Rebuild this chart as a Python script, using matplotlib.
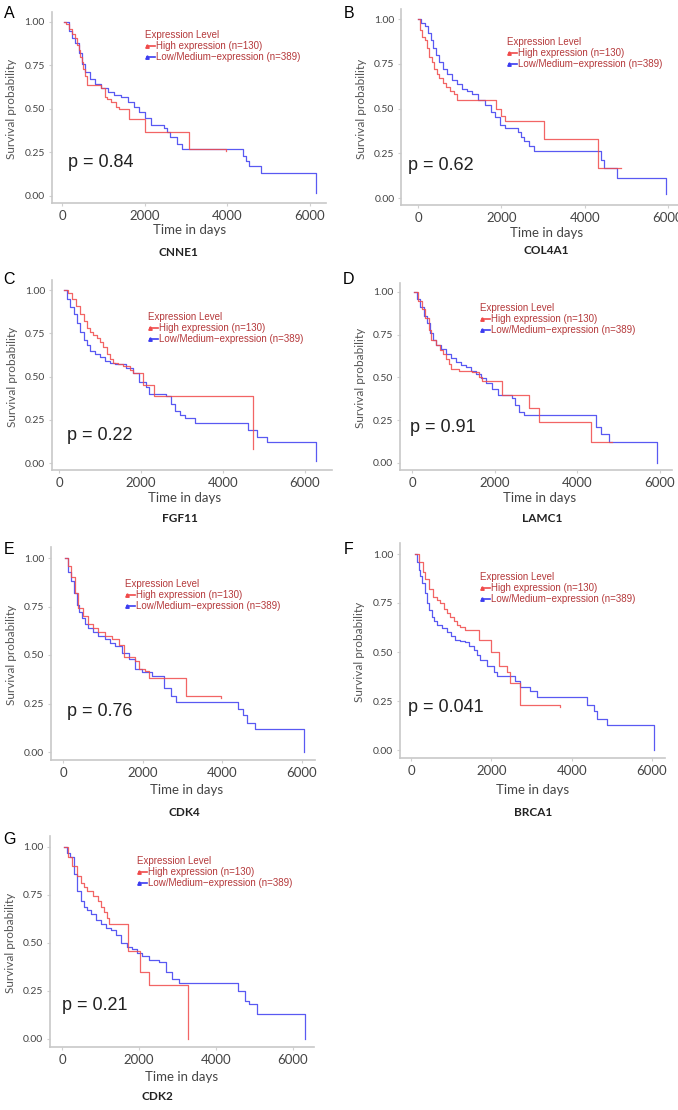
import matplotlib
matplotlib.use("Agg")
import matplotlib.pyplot as plt
from matplotlib.lines import Line2D

W, H = 678, 1110

# ---- survival curves (days, survival probability) ----
cnne1_high_t = [40, 100, 180, 250, 320, 360, 400, 440, 480, 520, 560, 600, 950, 1030, 1100, 1190, 1300, 1390,
                1630, 2000, 3080, 3970]
cnne1_high_s = [1.0, 0.99, 0.96, 0.93, 0.91, 0.87, 0.84, 0.80, 0.77, 0.73, 0.69, 0.64, 0.62, 0.57, 0.555, 0.54,
                0.51, 0.50, 0.44, 0.37, 0.27, 0.26]
cnne1_low_t = [40, 160, 240, 320, 400, 480, 560, 680, 800, 955, 1110, 1270, 1430, 1590, 1750, 1870, 2000, 2150,
               2460, 2540, 2620, 2780, 2900, 4370, 4450, 4530, 4810, 6150]
cnne1_low_s = [1.0, 0.95, 0.91, 0.88, 0.82, 0.76, 0.71, 0.675, 0.645, 0.62, 0.60, 0.58, 0.57, 0.54, 0.51, 0.48,
               0.45, 0.41, 0.39, 0.37, 0.34, 0.30, 0.27, 0.23, 0.20, 0.17, 0.13, 0.02]

col4a1_high_t = [0, 40, 100, 160, 220, 275, 330, 390, 450, 510, 590, 670, 760, 860, 940, 1880, 2000, 2080, 3020,
                 4310, 4860]
col4a1_high_s = [1.0, 0.94, 0.90, 0.88, 0.84, 0.79, 0.76, 0.72, 0.69, 0.67, 0.645, 0.62, 0.60, 0.58, 0.545, 0.50,
                 0.46, 0.43, 0.33, 0.17, 0.17]
col4a1_low_t = [0, 80, 160, 240, 310, 370, 430, 510, 590, 700, 820, 940, 1060, 1180, 1290, 1450, 1610, 1760, 1840,
                1960, 2080, 2390, 2470, 2550, 2670, 2780, 4390, 4470, 4780, 5960]
col4a1_low_s = [1.0, 0.98, 0.96, 0.92, 0.88, 0.84, 0.80, 0.76, 0.72, 0.69, 0.66, 0.635, 0.61, 0.595, 0.58, 0.55,
                0.52, 0.48, 0.45, 0.41, 0.39, 0.37, 0.34, 0.32, 0.29, 0.26, 0.21, 0.17, 0.11, 0.02]

fgf11_high_t = [120, 220, 320, 420, 520, 600, 680, 760, 840, 920, 1000, 1080, 1160, 1240, 1320, 1440, 1560, 1720,
                1800, 2040, 2320, 4720]
fgf11_high_s = [1.0, 0.98, 0.95, 0.91, 0.86, 0.82, 0.78, 0.76, 0.74, 0.72, 0.70, 0.67, 0.63, 0.60, 0.58, 0.57,
                0.56, 0.54, 0.52, 0.45, 0.39, 0.08]
fgf11_low_t = [120, 200, 280, 360, 440, 520, 600, 680, 760, 880, 1000, 1120, 1240, 1360, 1480, 1640, 1800, 1960,
               2120, 2200, 2600, 2720, 2840, 2960, 3080, 3320, 4600, 4840, 5080, 6280]
fgf11_low_s = [1.0, 0.95, 0.90, 0.86, 0.81, 0.76, 0.71, 0.68, 0.65, 0.63, 0.61, 0.59, 0.58, 0.575, 0.57, 0.55,
               0.52, 0.47, 0.44, 0.40, 0.39, 0.34, 0.30, 0.28, 0.26, 0.23, 0.19, 0.15, 0.12, 0.01]

lamc1_high_t = [40, 150, 240, 320, 400, 470, 570, 670, 750, 830, 890, 950, 1140, 1460, 1620, 1700, 2170, 2840,
                3080, 4340, 4850]
lamc1_high_s = [1.0, 0.95, 0.90, 0.85, 0.78, 0.72, 0.69, 0.66, 0.635, 0.61, 0.58, 0.55, 0.54, 0.53, 0.50, 0.48,
                0.40, 0.32, 0.24, 0.12, 0.12]
lamc1_low_t = [40, 120, 200, 280, 355, 430, 510, 590, 710, 830, 950, 1070, 1190, 1300, 1420, 1540, 1660, 1780,
               1930, 2090, 2410, 2490, 2600, 2720, 4460, 4580, 4770, 5920]
lamc1_low_s = [1.0, 0.96, 0.91, 0.86, 0.82, 0.76, 0.72, 0.69, 0.665, 0.64, 0.615, 0.59, 0.575, 0.56, 0.54, 0.52,
               0.495, 0.47, 0.43, 0.40, 0.38, 0.34, 0.30, 0.28, 0.21, 0.17, 0.12, 0.0]

cdk4_high_t = [50, 120, 200, 290, 380, 500, 630, 760, 890, 1060, 1230, 1400, 1520, 1820, 1900, 2070, 2160, 3085,
               3970]
cdk4_high_s = [1.0, 0.96, 0.90, 0.82, 0.74, 0.70, 0.66, 0.64, 0.62, 0.60, 0.58, 0.55, 0.49, 0.47, 0.43, 0.42,
               0.38, 0.29, 0.28]
cdk4_low_t = [50, 130, 200, 270, 340, 400, 465, 550, 630, 760, 890, 1060, 1180, 1310, 1480, 1650, 1820, 1990,
              2240, 2540, 2700, 2830, 4400, 4520, 4610, 4820, 6040]
cdk4_low_s = [1.0, 0.93, 0.88, 0.82, 0.76, 0.72, 0.69, 0.66, 0.64, 0.62, 0.60, 0.58, 0.56, 0.545, 0.51, 0.48,
              0.43, 0.41, 0.39, 0.33, 0.29, 0.26, 0.22, 0.19, 0.15, 0.12, 0.0]

brca1_high_t = [100, 200, 290, 360, 440, 560, 650, 730, 820, 900, 980, 1060, 1150, 1230, 1350, 1690, 1980, 2180,
                2390, 2470, 2720, 3720]
brca1_high_s = [1.0, 0.96, 0.91, 0.87, 0.82, 0.78, 0.765, 0.75, 0.72, 0.70, 0.68, 0.66, 0.64, 0.63, 0.61, 0.56,
                0.50, 0.43, 0.40, 0.34, 0.23, 0.22]
brca1_low_t = [100, 150, 190, 230, 275, 340, 400, 460, 520, 580, 650, 780, 900, 1000, 1100, 1230, 1350, 1450,
               1560, 1650, 1730, 1890, 2060, 2140, 2600, 2720, 2970, 3140, 4380, 4550, 4630, 4880, 6040]
brca1_low_s = [1.0, 0.96, 0.92, 0.89, 0.85, 0.80, 0.75, 0.715, 0.68, 0.66, 0.64, 0.62, 0.60, 0.58, 0.56, 0.555,
               0.55, 0.53, 0.51, 0.485, 0.46, 0.43, 0.40, 0.38, 0.35, 0.32, 0.30, 0.27, 0.23, 0.20, 0.16, 0.13, 0.0]

cdk2_high_t = [45, 150, 265, 380, 485, 570, 660, 800, 925, 1020, 1100, 1170, 1230, 1720, 2030, 2250, 3260]
cdk2_high_s = [1.0, 0.95, 0.90, 0.85, 0.81, 0.79, 0.77, 0.745, 0.72, 0.69, 0.66, 0.63, 0.60, 0.46, 0.35, 0.28, 0.0]
cdk2_low_t = [45, 130, 220, 310, 400, 490, 570, 660, 750, 880, 1010, 1150, 1280, 1410, 1540, 1680, 1810, 1940,
              2070, 2250, 2510, 2690, 2860, 3040, 4580, 4760, 4850, 5070, 6300]
cdk2_low_s = [1.0, 0.97, 0.95, 0.86, 0.77, 0.72, 0.69, 0.67, 0.65, 0.62, 0.60, 0.58, 0.57, 0.54, 0.50, 0.48, 0.47,
              0.45, 0.43, 0.41, 0.40, 0.35, 0.31, 0.29, 0.25, 0.20, 0.18, 0.13, 0.0]

genes = ["CNNE1", "COL4A1", "FGF11", "LAMC1", "CDK4", "BRCA1", "CDK2"]
letters = ["A", "B", "C", "D", "E", "F", "G"]
p_labels = ["p = 0.84", "p = 0.62", "p = 0.22", "p = 0.91", "p = 0.76", "p = 0.041", "p = 0.21"]
legend_title = "Expression Level"
legend_labels = ["High expression (n=130)", "Low/Medium\u2212expression (n=389)"]
x_ticks = [0, 2000, 4000, 6000]
y_ticks = [0.0, 0.25, 0.5, 0.75, 1.0]

curves = [
    (cnne1_high_t, cnne1_high_s, cnne1_low_t, cnne1_low_s),
    (col4a1_high_t, col4a1_high_s, col4a1_low_t, col4a1_low_s),
    (fgf11_high_t, fgf11_high_s, fgf11_low_t, fgf11_low_s),
    (lamc1_high_t, lamc1_high_s, lamc1_low_t, lamc1_low_s),
    (cdk4_high_t, cdk4_high_s, cdk4_low_t, cdk4_low_s),
    (brca1_high_t, brca1_high_s, brca1_low_t, brca1_low_s),
    (cdk2_high_t, cdk2_high_s, cdk2_low_t, cdk2_low_s),
]

# layout in pixels: x of 0 / 6000, y of 1.0 / 0.0, xlim, legend, texts
layout = [
    dict(x0=62, x6=310, y1=22, y0=196, xl=(-250, 6390), leg=(145, 35), p=(68, 162), tx=(190, 230), gn=(178, 252), let=(9, 14)),
    dict(x0=418, x6=668, y1=19, y0=198, xl=(-400, 6600), leg=(507, 42), p=(408, 165), tx=(547, 233), gn=(546, 251), let=(349, 14)),
    dict(x0=59, x6=305, y1=290, y0=463, xl=(-170, 6650), leg=(148, 317), p=(67, 435), tx=(185, 498), gn=(180, 519), let=(9, 279)),
    dict(x0=412, x6=660, y1=292, y0=463, xl=(-290, 6300), leg=(480, 308), p=(410, 427), tx=(540, 498), gn=(542, 518), let=(349, 279)),
    dict(x0=63, x6=302, y1=558, y0=752, xl=(-300, 6330), leg=(125, 584), p=(67, 712), tx=(187, 790), gn=(184, 812), let=(9, 550)),
    dict(x0=411, x6=652, y1=554, y0=750, xl=(-275, 6325), leg=(480, 577), p=(408, 708), tx=(533, 790), gn=(533, 812), let=(349, 550)),
    dict(x0=62, x6=293, y1=847, y0=1039, xl=(-310, 6540), leg=(137, 861), p=(62, 1006), tx=(182, 1077), gn=(157, 1097), let=(9, 840)),
]

RED = "#f04a4a"
BLUE = "#3c3cf0"
LEGTXT = "#b5393b"
GREY = "#444444"
yl = (-0.04, 1.055)

fig = plt.figure(figsize=(W / 100, H / 100), dpi=100)


def fx(px):
    return px / W


def fy(py):
    return 1 - py / H


for i, (lay, cur) in enumerate(zip(layout, curves)):
    sx = (lay["x6"] - lay["x0"]) / 6000.0
    sy = lay["y0"] - lay["y1"]
    left = lay["x0"] + lay["xl"][0] * sx
    right = lay["x0"] + lay["xl"][1] * sx
    top = lay["y0"] - yl[1] * sy
    bottom = lay["y0"] - yl[0] * sy
    ax = fig.add_axes([fx(left), fy(bottom), (right - left) / W, (bottom - top) / H])
    ax.set_xlim(*lay["xl"])
    ax.set_ylim(*yl)

    ht, hs, lt, ls = cur
    ax.step(lt, ls, where="post", color=BLUE, lw=0.9, alpha=0.85)
    ax.step(ht, hs, where="post", color=RED, lw=0.9, alpha=0.85)

    for s in ["top", "right"]:
        ax.spines[s].set_visible(False)
    for s in ["left", "bottom"]:
        ax.spines[s].set_color("#c8c8c8")
        ax.spines[s].set_linewidth(1.2)
    ax.set_xticks(x_ticks)
    ax.set_xticklabels([str(v) for v in x_ticks], fontsize=9.5, color=GREY, family="Lato")
    ax.set_yticks(y_ticks)
    ax.set_yticklabels(["%.2f" % v for v in y_ticks], fontsize=7.5, color=GREY, family="Lato")
    ax.tick_params(length=2, color="#d0d0d0", pad=3)
    ax.patch.set_alpha(0)

    # axis titles and labels
    fig.text(fx(left - 40), fy((lay["y1"] + lay["y0"]) / 2), "Survival probability", rotation=90,
             ha="center", va="center", fontsize=8.5, color="#555555", family="Lato")
    fig.text(fx(lay["tx"][0]), fy(lay["tx"][1]), "Time in days", ha="center", va="center",
             fontsize=9.5, color=GREY, family="Lato")
    fig.text(fx(lay["gn"][0]), fy(lay["gn"][1]), genes[i], ha="center", va="center",
             fontsize=8.5, fontweight="bold", color="#222222", family="Lato")
    fig.text(fx(lay["p"][0]), fy(lay["p"][1]), p_labels[i], ha="left", va="center",
             fontsize=13, color="#222222", family="Liberation Sans")
    fig.text(fx(lay["let"][0]), fy(lay["let"][1]), letters[i], ha="center", va="center",
             fontsize=11.5, color="black", family="Liberation Sans")

    # legend
    lx, ly = lay["leg"]
    fig.text(fx(lx), fy(ly), legend_title, ha="left", va="center", fontsize=7,
             color=LEGTXT, family="Liberation Sans")
    for k, (lab, col) in enumerate(zip(legend_labels, [RED, BLUE])):
        yy = ly + 11 * (k + 1)
        fig.add_artist(Line2D([fx(lx + 2), fx(lx + 10)], [fy(yy), fy(yy)], color=col, lw=1.2,
                              marker="^", markersize=2.5, markevery=[0]))
        fig.text(fx(lx + 11), fy(yy), lab, ha="left", va="center", fontsize=7,
                 color=LEGTXT, family="Liberation Sans")

fig.savefig("out.png", dpi=100)
